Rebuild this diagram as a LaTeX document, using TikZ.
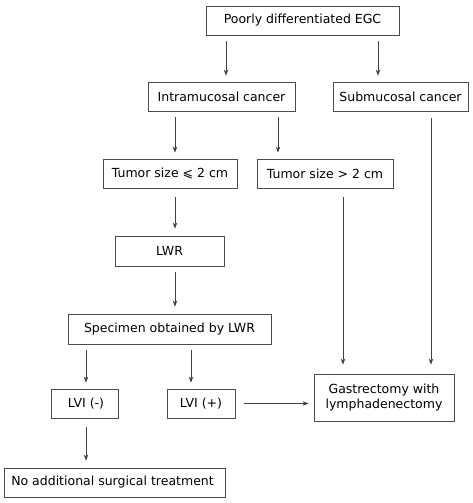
\documentclass[tikz,border=0pt]{standalone}
\usepackage{fontspec}
\setmainfont{DejaVu Sans}
\usetikzlibrary{arrows.meta,positioning}
\begin{document}
\begin{tikzpicture}[x=1pt,y=-1pt,
  box/.style={draw=black!70,line width=0.8pt,rectangle,inner sep=0pt,font=\fontsize{12.5}{14.5}\selectfont,align=center},
  arr/.style={draw=black!75,line width=0.8pt,-{Stealth[length=6pt,width=4.5pt]}}]
\useasboundingbox (0,0) rectangle (472,503);
\node[box,minimum width=193pt,minimum height=29pt] (poor) at (302.5,20.5) {Poorly differentiated EGC};
\node[box,minimum width=147pt,minimum height=29pt] (intra) at (221.5,96.5) {Intramucosal cancer};
\node[box,minimum width=135pt,minimum height=29pt] (sub) at (400.5,96.5) {Submucosal cancer};
\node[box,minimum width=134pt,minimum height=29pt] (tle) at (170,173.5) {Tumor size ⩽ 2 cm};
\node[box,minimum width=136pt,minimum height=29pt] (tgt) at (325,173.5) {Tumor size > 2 cm};
\node[box,minimum width=109pt,minimum height=30pt] (lwr) at (169.5,251) {LWR};
\node[box,minimum width=203pt,minimum height=30pt] (spec) at (169.5,329) {Specimen obtained by LWR};
\node[box,minimum width=67pt,minimum height=29pt] (lvin) at (84.5,403.5) {\hspace*{3pt}LVI (-)};
\node[box,minimum width=68pt,minimum height=29pt] (lvip) at (201,403.5) {LVI (+)};
\node[box,minimum width=140pt,minimum height=47pt] (gast) at (384,397.5) {Gastrectomy with\\lymphadenectomy};
\node[box,minimum width=221pt,minimum height=29pt] (noadd) at (114.5,482.5) {No additional surgical treatment\hspace*{4pt}};
% arrows
\draw[arr,shorten <=6pt,shorten >=6pt] ([xshift=4.5pt]intra.north |- poor.south) -- ([xshift=4.5pt]intra.north);
\draw[arr,shorten <=6pt,shorten >=6pt] ([xshift=-22.5pt]sub.north |- poor.south) -- ([xshift=-22.5pt]sub.north);
\draw[arr,shorten <=6pt,shorten >=6pt] ([xshift=5pt]tle.north |- intra.south) -- ([xshift=5pt]tle.north);
\draw[arr,shorten <=6pt,shorten >=6pt] ([xshift=-47pt]tgt.north |- intra.south) -- ([xshift=-47pt]tgt.north);
\draw[arr,shorten <=9pt,shorten >=7pt] ([xshift=5.5pt]lwr.north |- tle.south) -- ([xshift=5.5pt]lwr.north);
\draw[arr,shorten <=6pt,shorten >=7pt] ([xshift=5.5pt]lwr.south) -- ([xshift=5.5pt]spec.north);
\draw[arr,shorten <=6pt,shorten >=6pt] ([xshift=1.5pt]lvin.north |- spec.south) -- ([xshift=1.5pt]lvin.north);
\draw[arr,shorten <=6pt,shorten >=6pt] ([xshift=-10pt]lvip.north |- spec.south) -- ([xshift=-10pt]lvip.north);
\draw[arr,shorten <=9pt,shorten >=9pt] ([xshift=18pt]tgt.south) -- ([xshift=18pt]tgt.south |- gast.north);
\draw[arr,shorten <=7pt,shorten >=9pt] ([xshift=30.5pt]sub.south) -- ([xshift=30.5pt]sub.south |- gast.north);
\draw[arr,shorten <=9pt,shorten >=5pt] (lvip.east) -- (lvip.east -| gast.west);
\draw[arr,shorten <=9pt,shorten >=7pt] ([xshift=1.5pt]lvin.south) -- ([xshift=1.5pt]lvin.south |- noadd.north);
\end{tikzpicture}
\end{document}
